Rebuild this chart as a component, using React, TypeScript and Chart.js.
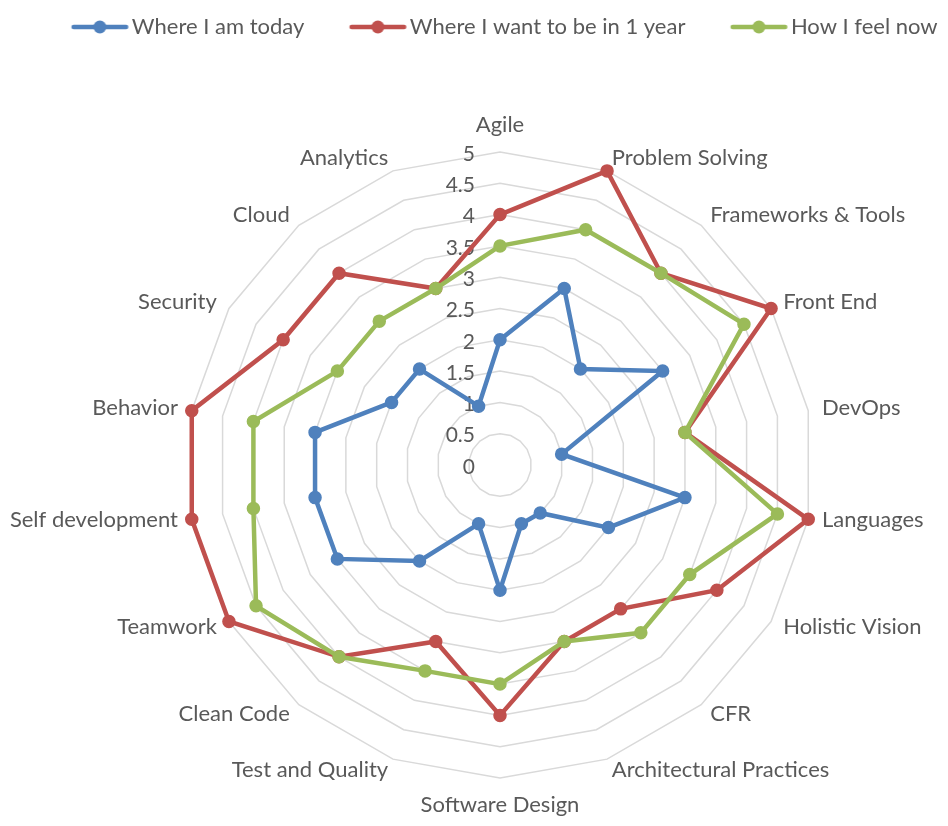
import { useEffect, useRef } from 'react';
import { Chart, registerables } from 'chart.js';

Chart.register(...registerables);

// ---------- data ----------
const CATEGORIES = [
  'Agile',
  'Problem Solving',
  'Frameworks & Tools',
  'Front End',
  'DevOps',
  'Languages',
  'Holistic Vision',
  'CFR',
  'Architectural Practices',
  'Software Design',
  'Test and Quality',
  'Clean Code',
  'Teamwork',
  'Self development',
  'Behavior',
  'Security',
  'Cloud',
  'Analytics',
];
const WHERE_TODAY = [2, 3, 2, 3, 1, 3, 2, 1, 1, 2, 1, 2, 3, 3, 3, 2, 2, 1];
const WHERE_ONE_YEAR = [4, 5, 4, 5, 3, 5, 4, 3, 3, 4, 3, 4, 5, 5, 5, 4, 4, 3];
const FEEL_NOW = [3.5, 4, 4, 4.5, 3, 4.5, 3.5, 3.5, 3, 3.5, 3.5, 4, 4.5, 4, 4, 3, 3, 3];
const SERIES_NAMES = ['Where I am today', 'Where I want to be in 1 year', 'How I feel now'];
const TICK_LABELS = ['0', '0.5', '1', '1.5', '2', '2.5', '3', '3.5', '4', '4.5', '5'];

// ---------- styles ----------
const COLORS = ['#4F81BD', '#C0504D', '#9BBB59'];
const TEXT_COLOR = '#595959';
const GRID_COLOR = '#D9D9D9';
const FONT_FAMILY = 'Lato, "Open Sans", sans-serif';
const FONT_SIZE = 22;
const TICK_FONT_SIZE = 21;

// scale geometry (layout)
const CENTER_X = 500;
const CENTER_Y = 465;
const RADIUS = 313;
const LABEL_GAP = 14;

// legend symbol geometry
const SYM_OFFSET = 45; // symbol start after box x (legend padding 0)
const SYM_W = 57;
const SYM_TEXT_GAP = 3.5;
const LEGEND_BOX_W = SYM_OFFSET + SYM_W + SYM_TEXT_GAP - FONT_SIZE / 2;

function makeSymbol(color: string): HTMLCanvasElement {
  const symCenter = SYM_OFFSET + SYM_W / 2;
  const offset = symCenter - LEGEND_BOX_W / 2;
  const iw = Math.ceil(2 * (Math.abs(offset) + SYM_W / 2) + 2);
  const ih = 16;
  const c = document.createElement('canvas');
  c.width = iw;
  c.height = ih;
  const g = c.getContext('2d')!;
  const cx = iw / 2 + offset;
  const lw = 4.5;
  g.strokeStyle = color;
  g.lineWidth = lw;
  g.lineCap = 'round';
  g.beginPath();
  g.moveTo(cx - SYM_W / 2 + lw / 2, ih / 2);
  g.lineTo(cx + SYM_W / 2 - lw / 2, ih / 2);
  g.stroke();
  g.fillStyle = color;
  g.beginPath();
  g.arc(cx, ih / 2, 6.5, 0, Math.PI * 2);
  g.fill();
  return c;
}

const excelRadarPlugin = {
  id: 'excelRadar',
  afterLayout(chart: any) {
    const s = chart.scales.r;
    s.xCenter = CENTER_X;
    s.yCenter = CENTER_Y;
    s.drawingArea = RADIUS;
  },
  beforeDatasetsDraw(chart: any) {
    const s = chart.scales.r;
    const ctx = chart.ctx as CanvasRenderingContext2D;
    ctx.save();
    ctx.fillStyle = TEXT_COLOR;
    // tick labels, right-aligned left of the vertical axis
    ctx.font = `${TICK_FONT_SIZE}px ${FONT_FAMILY}`;
    ctx.textAlign = 'right';
    ctx.textBaseline = 'middle';
    TICK_LABELS.forEach((t) => {
      const d = s.getDistanceFromCenterForValue(parseFloat(t));
      ctx.fillText(t, s.xCenter - 25, s.yCenter - d + 2);
    });
    // point labels
    ctx.font = `${FONT_SIZE}px ${FONT_FAMILY}`;
    const labels: string[] = chart.data.labels;
    const n = labels.length;
    labels.forEach((text, i) => {
      const deg = Math.round((i * 360) / n);
      const p = s.getPointPosition(i, s.drawingArea + LABEL_GAP);
      let y = p.y;
      let align: CanvasTextAlign;
      if (deg === 0) {
        align = 'center';
        y = p.y - 13;
      } else if (deg === 180) {
        align = 'center';
        y = p.y + 13;
      } else if (deg < 180) {
        align = 'left';
        y = deg > 90 ? p.y - 2 : p.y;
      } else {
        align = 'right';
        y = deg < 270 ? p.y - 2 : p.y;
      }
      ctx.textAlign = align;
      ctx.fillText(text, p.x, y);
    });
    ctx.restore();
  },
};

export default function App() {
  const ref = useRef<HTMLCanvasElement | null>(null);

  useEffect(() => {
    if (!ref.current) return;
    const symbols = COLORS.map(makeSymbol);
    const seriesData = [WHERE_TODAY, WHERE_ONE_YEAR, FEEL_NOW];
    const chart = new Chart(ref.current, {
      type: 'radar',
      data: {
        labels: CATEGORIES,
        datasets: seriesData.map((d, i) => ({
          label: SERIES_NAMES[i],
          data: d,
          borderColor: COLORS[i],
          backgroundColor: COLORS[i],
          pointBackgroundColor: COLORS[i],
          pointBorderColor: COLORS[i],
          borderWidth: 4.5,
          pointRadius: 6,
          pointBorderWidth: 1.5,
          pointHoverRadius: 6,
          fill: false,
          tension: 0,
          clip: false as any,
          order: 3 - i,
        })),
      },
      options: {
        animation: false,
        responsive: false,
        events: [],
        layout: { padding: { top: 16, left: 16, right: 0, bottom: 0 } },
        scales: {
          r: {
            min: 0,
            max: 5,
            beginAtZero: true,
            ticks: { stepSize: 0.5, display: false },
            grid: { color: GRID_COLOR, lineWidth: 1.5, circular: false },
            angleLines: { display: false },
            pointLabels: { display: false },
          },
        },
        plugins: {
          tooltip: { enabled: false },
          legend: {
            position: 'top',
            labels: {
              usePointStyle: true,
              pointStyleWidth: LEGEND_BOX_W,
              boxHeight: FONT_SIZE,
              padding: 0,
              color: TEXT_COLOR,
              font: { family: FONT_FAMILY, size: FONT_SIZE },
              sort: (a: any, b: any) => a.datasetIndex - b.datasetIndex,
              generateLabels: (c: any) =>
                (Chart.defaults.plugins.legend.labels as any)
                  .generateLabels(c)
                  .map((it: any) => ({ ...it, pointStyle: symbols[it.datasetIndex] })),
            },
          },
        },
      },
      plugins: [excelRadarPlugin],
    });
    return () => chart.destroy();
  }, []);

  return (
    <div style={{ position: 'fixed', left: 0, top: 0, width: 948, height: 826, background: '#fff' }}>
      <canvas ref={ref} width={948} height={826} style={{ width: 948, height: 826, display: 'block' }} />
    </div>
  );
}
